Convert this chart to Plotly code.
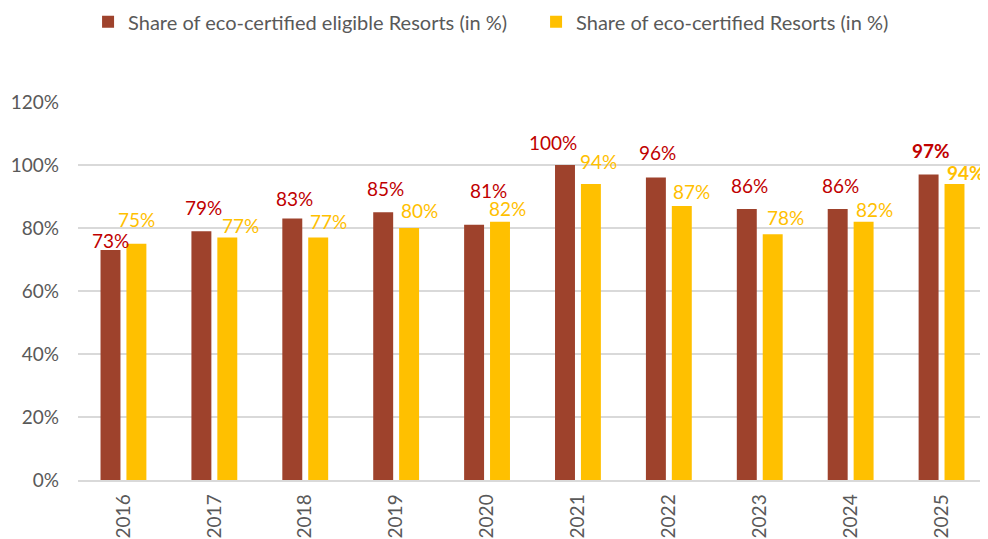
import plotly.graph_objects as go

years = ["2016", "2017", "2018", "2019", "2020", "2021", "2022", "2023", "2024", "2025"]
eligible = [73, 79, 83, 85, 81, 100, 96, 86, 86, 97]
certified = [75, 77, 77, 80, 82, 94, 87, 78, 82, 94]
y_ticks = [0, 20, 40, 60, 80, 100, 120]
y_tick_labels = ["0%", "20%", "40%", "60%", "80%", "100%", "120%"]

name_elig = "Share of eco-certified eligible Resorts (in %)"
name_cert = "Share of eco-certified Resorts (in %)"

# label nudges (pixels, relative to bar centre / bar top) as hand-placed in the original
elig_lbl_dx = [0, 2, 2, 2, 14, -12, 2, 3, 3, 2]
elig_lbl_dy = [10, 24, 20, 24, 34, 23, 25, 24, 24, 24]
cert_lbl_dx = [0, 13, 10, 10, 7, 8, 10, 13, 11, 11]
cert_lbl_dy = [24, 12, 16, 18, 13, 22, 14, 17, 12, 11]

MAROON = "#9E422C"
YELLOW = "#FFC000"
LBL_RED = "#C00000"
FONT = "Lato"
BAR_OFF = 13

idx = list(range(len(years)))

fig = go.Figure()
fig.add_trace(go.Bar(x=idx, y=eligible, name=name_elig, marker_color=MAROON,
                     marker_line_width=0, hoverinfo="y"))
fig.add_trace(go.Bar(x=idx, y=certified, name=name_cert, marker_color=YELLOW,
                     marker_line_width=0, hoverinfo="y"))

last = len(years) - 1
for i, v in zip(idx, eligible):
    t = f"{v}%"
    if i == last:
        t = f"<b>{t}</b>"
    fig.add_annotation(x=i, y=v, text=t, showarrow=False,
                       xshift=-BAR_OFF + elig_lbl_dx[i], yshift=elig_lbl_dy[i],
                       yanchor="middle", font=dict(family=FONT, size=19, color=LBL_RED))
for i, v in zip(idx, certified):
    t = f"{v}%"
    if i == last:
        t = f"<b>{t}</b>"
    fig.add_annotation(x=i, y=v, text=t, showarrow=False,
                       xshift=BAR_OFF + cert_lbl_dx[i], yshift=cert_lbl_dy[i],
                       yanchor="middle", font=dict(family=FONT, size=19, color=YELLOW))

fig.update_layout(
    width=980, height=531,
    margin=dict(l=70, r=1, t=94, b=59, autoexpand=False),
    paper_bgcolor="white", plot_bgcolor="white",
    barmode="group", bargap=0.43, bargroupgap=0.23,
    font=dict(family=FONT, size=18, color="#595959"),
    showlegend=True,
    legend=dict(orientation="h", xref="container", yref="paper",
                x=0.0817, xanchor="left", y=1.264, yanchor="top",
                entrywidth=403, entrywidthmode="pixels",
                font=dict(family=FONT, size=20, color="#595959"),
                itemsizing="constant", traceorder="normal"),
)
fig.update_yaxes(range=[0, 120], tickvals=y_ticks, ticktext=y_tick_labels,
                 showgrid=True, gridcolor="#D9D9D9", gridwidth=1.5, automargin=False,
                 zeroline=False, showline=False, ticks="", ticklabelstandoff=18,
                 tickfont=dict(family=FONT, size=19, color="#595959"))
fig.update_xaxes(range=[-0.5, len(years) - 0.5], tickvals=idx, ticktext=years,
                 tickangle=-90, showline=True, linecolor="#D9D9D9",
                 linewidth=1.5, ticks="", showgrid=False, automargin=False,
                 ticklabelstandoff=5,
                 tickfont=dict(family=FONT, size=19, color="#595959"))

fig.write_html("out.html")
